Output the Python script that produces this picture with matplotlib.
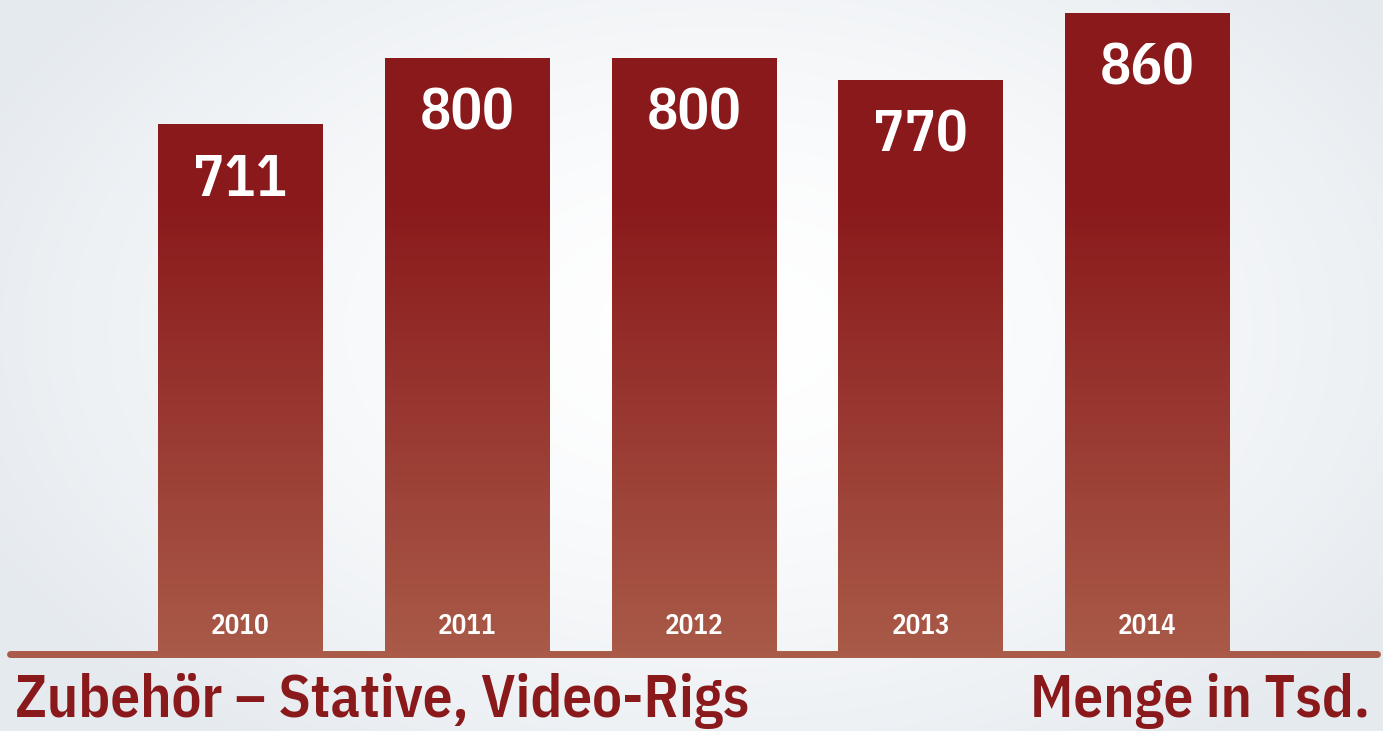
import matplotlib.pyplot as plt
import numpy as np
from matplotlib.colors import LinearSegmentedColormap

years = ["2010", "2011", "2012", "2013", "2014"]
values = [711, 800, 800, 770, 860]
title_left = "Zubehör – Stative, Video-Rigs"
title_right = "Menge in Tsd."

DARK = "#8a191b"
LIGHT = "#a95a48"
FONT = ["IBM Plex Sans Condensed", "DejaVu Sans"]

W, H = 1383, 731
fig = plt.figure(figsize=(W / 100, H / 100), dpi=100)

# background: soft radial gradient, white in the middle
bg = fig.add_axes([0, 0, 1, 1], zorder=0)
yy, xx = np.mgrid[0:H, 0:W]
r = np.sqrt(((xx - 720) / 820.0) ** 2 + ((yy - 330) / 520.0) ** 2)
r = np.clip(r, 0, 1) ** 1.6
edge = np.array([0xe5, 0xea, 0xef]) / 255.0
img = (1 - r)[..., None] * np.ones(3) + r[..., None] * edge
bg.imshow(img, aspect="auto", extent=[0, W, H, 0])
bg.set_axis_off()

ax = fig.add_axes([0, 0, 1, 1], zorder=1)
ax.patch.set_alpha(0)
px_per_unit = 0.745
y0 = H - 653.5
step = 226.75
xlim = (-240.5 / step, (W - 240.5) / step)
ylim = (-y0 / px_per_unit, (H - y0) / px_per_unit)
ax.set_axis_off()

x = np.arange(len(values))
bars = ax.bar(x, values, width=165 / step, color="none", edgecolor="none")

cmap = LinearSegmentedColormap.from_list("bar", [LIGHT, DARK])
dark_from = (653.5 - 200) / px_per_unit
grad = np.linspace(0, 1, 256)[:, None]
for b in bars:
    im = ax.imshow(grad, cmap=cmap, aspect="auto", origin="lower",
                   extent=[xlim[0], xlim[1], 0, dark_from], zorder=2)
    im.set_clip_path(b)
    top = ax.imshow([[1]], cmap=cmap, vmin=0, vmax=1, aspect="auto",
                    extent=[xlim[0], xlim[1], dark_from, 1000], zorder=2)
    top.set_clip_path(b)

ax.set_xlim(*xlim)
ax.set_ylim(*ylim)

ax.axhline(0, xmin=10 / W, xmax=1377 / W, color=LIGHT, lw=5, solid_capstyle="round", zorder=3)

for xi, v, yr in zip(x, values, years):
    ax.annotate(str(v), (xi, v), xytext=(0, -72 * 0.72), textcoords="offset points",
                ha="center", va="baseline", color="white", fontsize=42,
                family=FONT, weight=600, zorder=4)
    ax.annotate(yr, (xi, 0), xytext=(0, 20 * 0.72), textcoords="offset points",
                ha="center", va="baseline", color="white", fontsize=19.5,
                family=FONT, weight=600, zorder=4)

fig.text(15 / W, 1 - 717 / H, title_left, ha="left", va="baseline", color=DARK,
         fontsize=42.5, family=FONT, weight=600)
fig.text(1370 / W, 1 - 717 / H, title_right, ha="right", va="baseline", color=DARK,
         fontsize=42.5, family=FONT, weight=600)

fig.savefig("out.png", dpi=100)
